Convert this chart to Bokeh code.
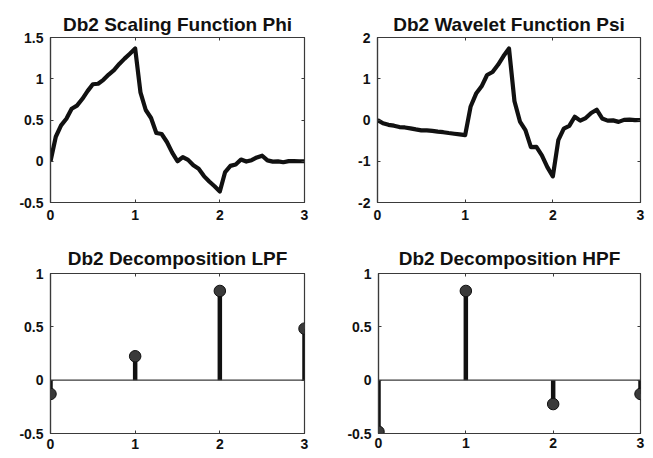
from bokeh.plotting import figure
from bokeh.layouts import column, row
from bokeh.models import Range1d, FixedTicker, Span, LinearAxis
from bokeh.embed import file_html
from bokeh.resources import INLINE

# ---------------- data ----------------
titles = ["Db2 Scaling Function Phi", "Db2 Wavelet Function Psi",
          "Db2 Decomposition LPF", "Db2 Decomposition HPF"]

t = [0, 0.0625, 0.125, 0.1875, 0.25, 0.3125, 0.375, 0.4375, 0.5, 0.5625,
     0.625, 0.6875, 0.75, 0.8125, 0.875, 0.9375, 1.0, 1.0625, 1.125, 1.1875,
     1.25, 1.3125, 1.375, 1.4375, 1.5, 1.5625, 1.625, 1.6875, 1.75, 1.8125,
     1.875, 1.9375, 2.0, 2.0625, 2.125, 2.1875, 2.25, 2.3125, 2.375, 2.4375,
     2.5, 2.5625, 2.625, 2.6875, 2.75, 2.8125, 2.875, 2.9375, 3.0]

phi = [0, 0.297, 0.435, 0.515, 0.637, 0.674, 0.754, 0.850, 0.933, 0.939,
       0.987, 1.051, 1.104, 1.179, 1.244, 1.304, 1.366, 0.835, 0.621, 0.524,
       0.342, 0.330, 0.233, 0.105, 0.0, 0.051, 0.017, -0.049, -0.092, -0.180,
       -0.246, -0.303, -0.366, -0.131, -0.056, -0.039, 0.021, -0.004, 0.013, 0.046,
       0.067, 0.010, -0.004, -0.002, -0.012, 0.001, 0.002, 0.0, 0.0]

psi = [0, -0.080, -0.117, -0.138, -0.171, -0.181, -0.202, -0.228, -0.250, -0.252,
       -0.265, -0.282, -0.296, -0.316, -0.333, -0.349, -0.366, 0.328, 0.641, 0.816,
       1.091, 1.163, 1.337, 1.549, 1.732, 0.455, -0.037, -0.244, -0.658, -0.653,
       -0.858, -1.141, -1.366, -0.490, -0.209, -0.144, 0.079, -0.016, 0.048, 0.171,
       0.250, 0.038, -0.015, -0.009, -0.046, 0.003, 0.008, -0.002, 0.0]

taps = [0, 1, 2, 3]
lpf = [-0.1294, 0.2241, 0.8365, 0.4830]
hpf = [-0.4830, 0.8365, -0.2241, -0.1294]

x_ticks = [0, 1, 2, 3]
x_tick_labels = ["0", "1", "2", "3"]
phi_ticks = [-0.5, 0, 0.5, 1, 1.5]
phi_tick_labels = ["-0.5", "0", "0.5", "1", "1.5"]
psi_ticks = [-2, -1, 0, 1, 2]
psi_tick_labels = ["-2", "-1", "0", "1", "2"]
filt_ticks = [-0.5, 0, 0.5, 1]
filt_tick_labels = ["-0.5", "0", "0.5", "1"]

# ---------------- styling ----------------
FONT = "Liberation Sans"
EDGE = "#3a3a3a"
INK = "#111111"


def tick_only_axis(ticks):
    ax = LinearAxis(ticker=FixedTicker(ticks=ticks),
                    major_label_overrides={k: "" for k in ticks},
                    major_label_text_font_size="0px", major_label_standoff=0,
                    axis_line_color=None, major_tick_in=3, major_tick_out=0,
                    major_tick_line_color=EDGE, minor_tick_line_color=None)
    return ax


def make_fig(title, w, h, ml, mr, mt, mb, yr, yt, ytl, xstand, tstand):
    p = figure(width=w, height=h, x_range=Range1d(0, 3), y_range=Range1d(*yr),
               output_backend="svg", toolbar_location=None,
               min_border_left=ml, min_border_right=mr,
               min_border_top=mt, min_border_bottom=mb,
               background_fill_color="white", border_fill_color="white")
    p.title.text = title
    p.title.align = "center"
    p.title.text_font = FONT
    p.title.text_font_style = "bold"
    p.title.text_font_size = "19px"
    p.title.text_color = INK
    p.title.standoff = tstand
    p.grid.visible = False
    p.outline_line_color = EDGE
    p.outline_line_width = 1.2
    for ax in (p.xaxis, p.yaxis):
        ax.axis_line_color = EDGE
        ax.axis_line_width = 1.2
        ax.major_tick_in = 3
        ax.major_tick_out = 0
        ax.major_tick_line_color = EDGE
        ax.minor_tick_line_color = None
        ax.major_label_text_font = FONT
        ax.major_label_text_font_style = "bold"
        ax.major_label_text_font_size = "14px"
        ax.major_label_text_color = INK
    p.xaxis.ticker = FixedTicker(ticks=x_ticks)
    p.xaxis.major_label_overrides = dict(zip(x_ticks, x_tick_labels))
    p.xaxis.major_label_standoff = xstand
    p.yaxis.ticker = FixedTicker(ticks=yt)
    p.yaxis.major_label_overrides = dict(zip(yt, ytl))
    p.yaxis.major_label_standoff = 7
    p.add_layout(tick_only_axis(x_ticks), "above")
    p.add_layout(tick_only_axis(yt), "right")
    return p


p1 = make_fig(titles[0], 326, 238, 50, 22, 35, 36, (-0.5, 1.5), phi_ticks, phi_tick_labels, 7, 6)
p1.line(t, phi, line_width=4.2, line_color=INK, line_join="round")

p2 = make_fig(titles[1], 327, 238, 51, 13, 37, 35, (-2, 2), psi_ticks, psi_tick_labels, 7, 6)
p2.line(t, psi, line_width=4.2, line_color=INK, line_join="round")


def stems(p, xs, ys):
    p.add_layout(Span(location=0, dimension="width", line_color=EDGE, line_width=1.2))
    p.segment(x0=xs, y0=[0] * len(xs), x1=xs, y1=ys, line_width=4.5, line_color=INK)
    p.scatter(xs, ys, size=11.5, fill_color="#3a3a3a", line_color=INK, line_width=1)


p3 = make_fig(titles[2], 326, 220, 50, 22, 33, 25, (-0.5, 1), filt_ticks, filt_tick_labels, 5, 9)
stems(p3, taps, lpf)

p4 = make_fig(titles[3], 327, 220, 52, 13, 35, 23, (-0.5, 1), filt_ticks, filt_tick_labels, 4, 9)
stems(p4, taps, hpf)

layout = column(row(p1, p2), row(p3, p4))

open("out.html", "w").write(file_html(layout, INLINE))
